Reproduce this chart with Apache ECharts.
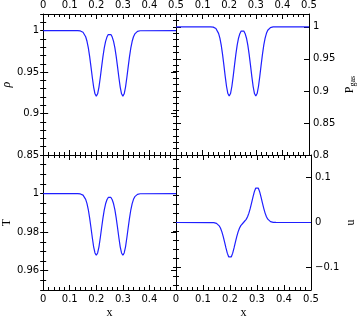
<!DOCTYPE html>
<html>
<head>
<meta charset="utf-8">
<script src="https://cdn.jsdelivr.net/npm/echarts@6/dist/echarts.min.js"></script>
<style>
html,body{margin:0;padding:0;background:#fff}
#main{width:358px;height:320px}
</style>
</head>
<body>
<div id="main"></div>
<script>
var xs = [0,
  0.13, 0.135, 0.14, 0.145, 0.15, 0.155, 0.16, 0.165, 0.17, 0.175, 0.18, 0.185, 0.19, 0.195, 0.2,
  0.205, 0.21, 0.215, 0.22, 0.225, 0.23, 0.235, 0.24, 0.245, 0.25,
  0.255, 0.26, 0.265, 0.27, 0.275, 0.28, 0.285, 0.29, 0.295, 0.3,
  0.305, 0.31, 0.315, 0.32, 0.325, 0.33, 0.335, 0.34, 0.345, 0.35, 0.355, 0.36, 0.365, 0.37,
  0.5];
var rho = [1,
  1.0000, 0.9998, 0.9996, 0.9991, 0.9980, 0.9960, 0.9926, 0.9871, 0.9791, 0.9686, 0.9563, 0.9434, 0.9319, 0.9238, 0.9210,
  0.9238, 0.9319, 0.9434, 0.9563, 0.9686, 0.9791, 0.9870, 0.9922, 0.9952, 0.9960,
  0.9952, 0.9922, 0.9870, 0.9791, 0.9686, 0.9563, 0.9434, 0.9319, 0.9238, 0.9210,
  0.9238, 0.9319, 0.9434, 0.9563, 0.9686, 0.9791, 0.9871, 0.9926, 0.9960, 0.9980, 0.9991, 0.9996, 0.9998, 1.0000,
  1];
var pgas = [1,
  0.9999, 0.9998, 0.9995, 0.9988, 0.9973, 0.9946, 0.9898, 0.9824, 0.9715, 0.9571, 0.9403, 0.9226, 0.9069, 0.8959, 0.8920,
  0.8959, 0.9069, 0.9226, 0.9403, 0.9571, 0.9714, 0.9822, 0.9893, 0.9934, 0.9946,
  0.9934, 0.9893, 0.9822, 0.9714, 0.9571, 0.9403, 0.9226, 0.9069, 0.8959, 0.8920,
  0.8959, 0.9069, 0.9226, 0.9403, 0.9571, 0.9715, 0.9824, 0.9898, 0.9946, 0.9973, 0.9988, 0.9995, 0.9998, 0.9999,
  1];
var temp = [1,
  1.0000, 0.9999, 0.9998, 0.9996, 0.9992, 0.9984, 0.9970, 0.9948, 0.9916, 0.9873, 0.9823, 0.9771, 0.9724, 0.9692, 0.9680,
  0.9692, 0.9724, 0.9771, 0.9823, 0.9873, 0.9915, 0.9947, 0.9968, 0.9980, 0.9984,
  0.9980, 0.9968, 0.9947, 0.9915, 0.9873, 0.9823, 0.9771, 0.9724, 0.9692, 0.9680,
  0.9692, 0.9724, 0.9771, 0.9823, 0.9873, 0.9916, 0.9948, 0.9970, 0.9984, 0.9992, 0.9996, 0.9998, 0.9999, 1.0000,
  1];
var vel = [0,
  -0.0001, -0.0002, -0.0004, -0.0009, -0.0020, -0.0040, -0.0074, -0.0129, -0.0209, -0.0314, -0.0437, -0.0566, -0.0681, -0.0762, -0.0790,
  -0.0762, -0.0681, -0.0566, -0.0437, -0.0313, -0.0208, -0.0127, -0.0070, -0.0031, 0.0000,
  0.0031, 0.0070, 0.0127, 0.0208, 0.0313, 0.0437, 0.0566, 0.0681, 0.0762, 0.0790,
  0.0762, 0.0681, 0.0566, 0.0437, 0.0314, 0.0209, 0.0129, 0.0074, 0.0040, 0.0020, 0.0009, 0.0004, 0.0002, 0.0001,
  0];

var xTicks = [0, 0.1, 0.2, 0.3, 0.4, 0.5];
var rhoTicks = [0.85, 0.9, 0.95, 1];
var pgasTicks = [0.8, 0.85, 0.9, 0.95, 1];
var tempTicks = [0.96, 0.98, 1];
var velTicks = [-0.1, 0, 0.1];

var panels = [
  {name: 'ρ', data: rho, min: 0.85, max: 1.02, ticks: rhoTicks, minor: 0.01, col: 0, row: 0},
  {name: '{p|P}{s|gas}', data: pgas, min: 0.8, max: 1.02, ticks: pgasTicks, minor: 0.01, col: 1, row: 0},
  {name: 'T', data: temp, min: 0.95, max: 1.02, ticks: tempTicks, minor: 0.005, col: 0, row: 1},
  {name: 'u', data: vel, min: -0.15, max: 0.15, ticks: velTicks, minor: 0.02, col: 1, row: 1}
];

var black = '#000';
var labelFont = {color: black, fontFamily: 'DejaVu Sans', fontSize: 10};
function fmt(v) { return String(+(+v).toFixed(3)).replace('-', '\u2212'); }

function minorList(min, max, step) {
  var out = [];
  for (var k = Math.ceil(min / step - 1e-6); k * step <= max + 1e-9; k++) out.push(+(k * step).toFixed(4));
  return out;
}

var grids = [], xAxes = [], yAxes = [], series = [];
panels.forEach(function (p, i) {
  grids.push({
    left: p.col === 0 ? 41 : 176,
    width: p.col === 0 ? 135 : 137,
    top: p.row === 0 ? 13 : 155,
    height: p.row === 0 ? 142 : 141,
    containLabel: false
  });
  ['bottom', 'top'].forEach(function (pos) {
    var showLab = (pos === 'top') === (p.row === 0);
    xAxes.push({
      gridIndex: i, type: 'value', position: pos,
      min: 0, max: 0.5, interval: 0.1,
      axisLine: {show: true, onZero: false, lineStyle: {color: black, width: 1}},
      axisTick: {show: true, inside: true, length: 5, lineStyle: {color: black, width: 1}},
      minorTick: {show: true, splitNumber: 5, length: 3, lineStyle: {color: black, width: 1}},
      splitLine: {show: false},
      axisLabel: Object.assign({
        show: showLab, margin: 4, formatter: fmt,
        showMinLabel: !(p.col === 1 && p.row === 0),
        showMaxLabel: !(p.col === 0 && p.row === 1)
      }, labelFont),
      name: (pos === 'bottom' && p.row === 1) ? 'x' : '',
      nameLocation: 'middle', nameGap: 17,
      nameTextStyle: {color: black, fontFamily: 'Liberation Serif', fontSize: 12}
    });
  });
  var minors = minorList(p.min, p.max, p.minor);
  ['left', 'right'].forEach(function (pos) {
    var showLab = (pos === 'left') === (p.col === 0);
    yAxes.push({
      gridIndex: i, type: 'value', position: pos,
      min: p.min, max: p.max,
      axisLine: {show: true, onZero: false, lineStyle: {color: black, width: 1}},
      axisTick: {show: true, inside: true, length: 5, customValues: p.ticks, lineStyle: {color: black, width: 1}},
      splitLine: {show: false},
      axisLabel: Object.assign({show: showLab, margin: 4, customValues: p.ticks, formatter: fmt}, labelFont),
      name: showLab ? p.name : '',
      nameLocation: 'middle', nameRotate: 90,
      nameGap: pos === 'left' ? 30 : 34,
      nameTextStyle: {
        color: black, fontFamily: 'Liberation Serif', fontSize: 12,
        fontStyle: p.name === 'ρ' ? 'italic' : 'normal',
        rich: {
          p: {fontFamily: 'Liberation Serif', fontSize: 12, color: black},
          s: {fontFamily: 'Liberation Serif', fontSize: 8, color: black, padding: [6, 0, 0, 0]}
        }
      }
    });
    yAxes.push({
      gridIndex: i, type: 'value', position: pos,
      min: p.min, max: p.max,
      axisLine: {show: false},
      axisTick: {show: true, inside: true, length: 3, customValues: minors, lineStyle: {color: black, width: 1}},
      splitLine: {show: false},
      axisLabel: {show: false}
    });
  });
  series.push({
    type: 'line', xAxisIndex: i * 2, yAxisIndex: i * 4,
    data: xs.map(function (x, j) { return [x, p.data[j]]; }),
    showSymbol: false, symbol: 'none',
    lineStyle: {color: '#1f1fff', width: 1.2},
    silent: true
  });
});

var chart = echarts.init(document.getElementById('main'));
chart.setOption({
  animation: false,
  backgroundColor: '#fff',
  grid: grids,
  xAxis: xAxes,
  yAxis: yAxes,
  series: series
});
</script>
</body>
</html>
